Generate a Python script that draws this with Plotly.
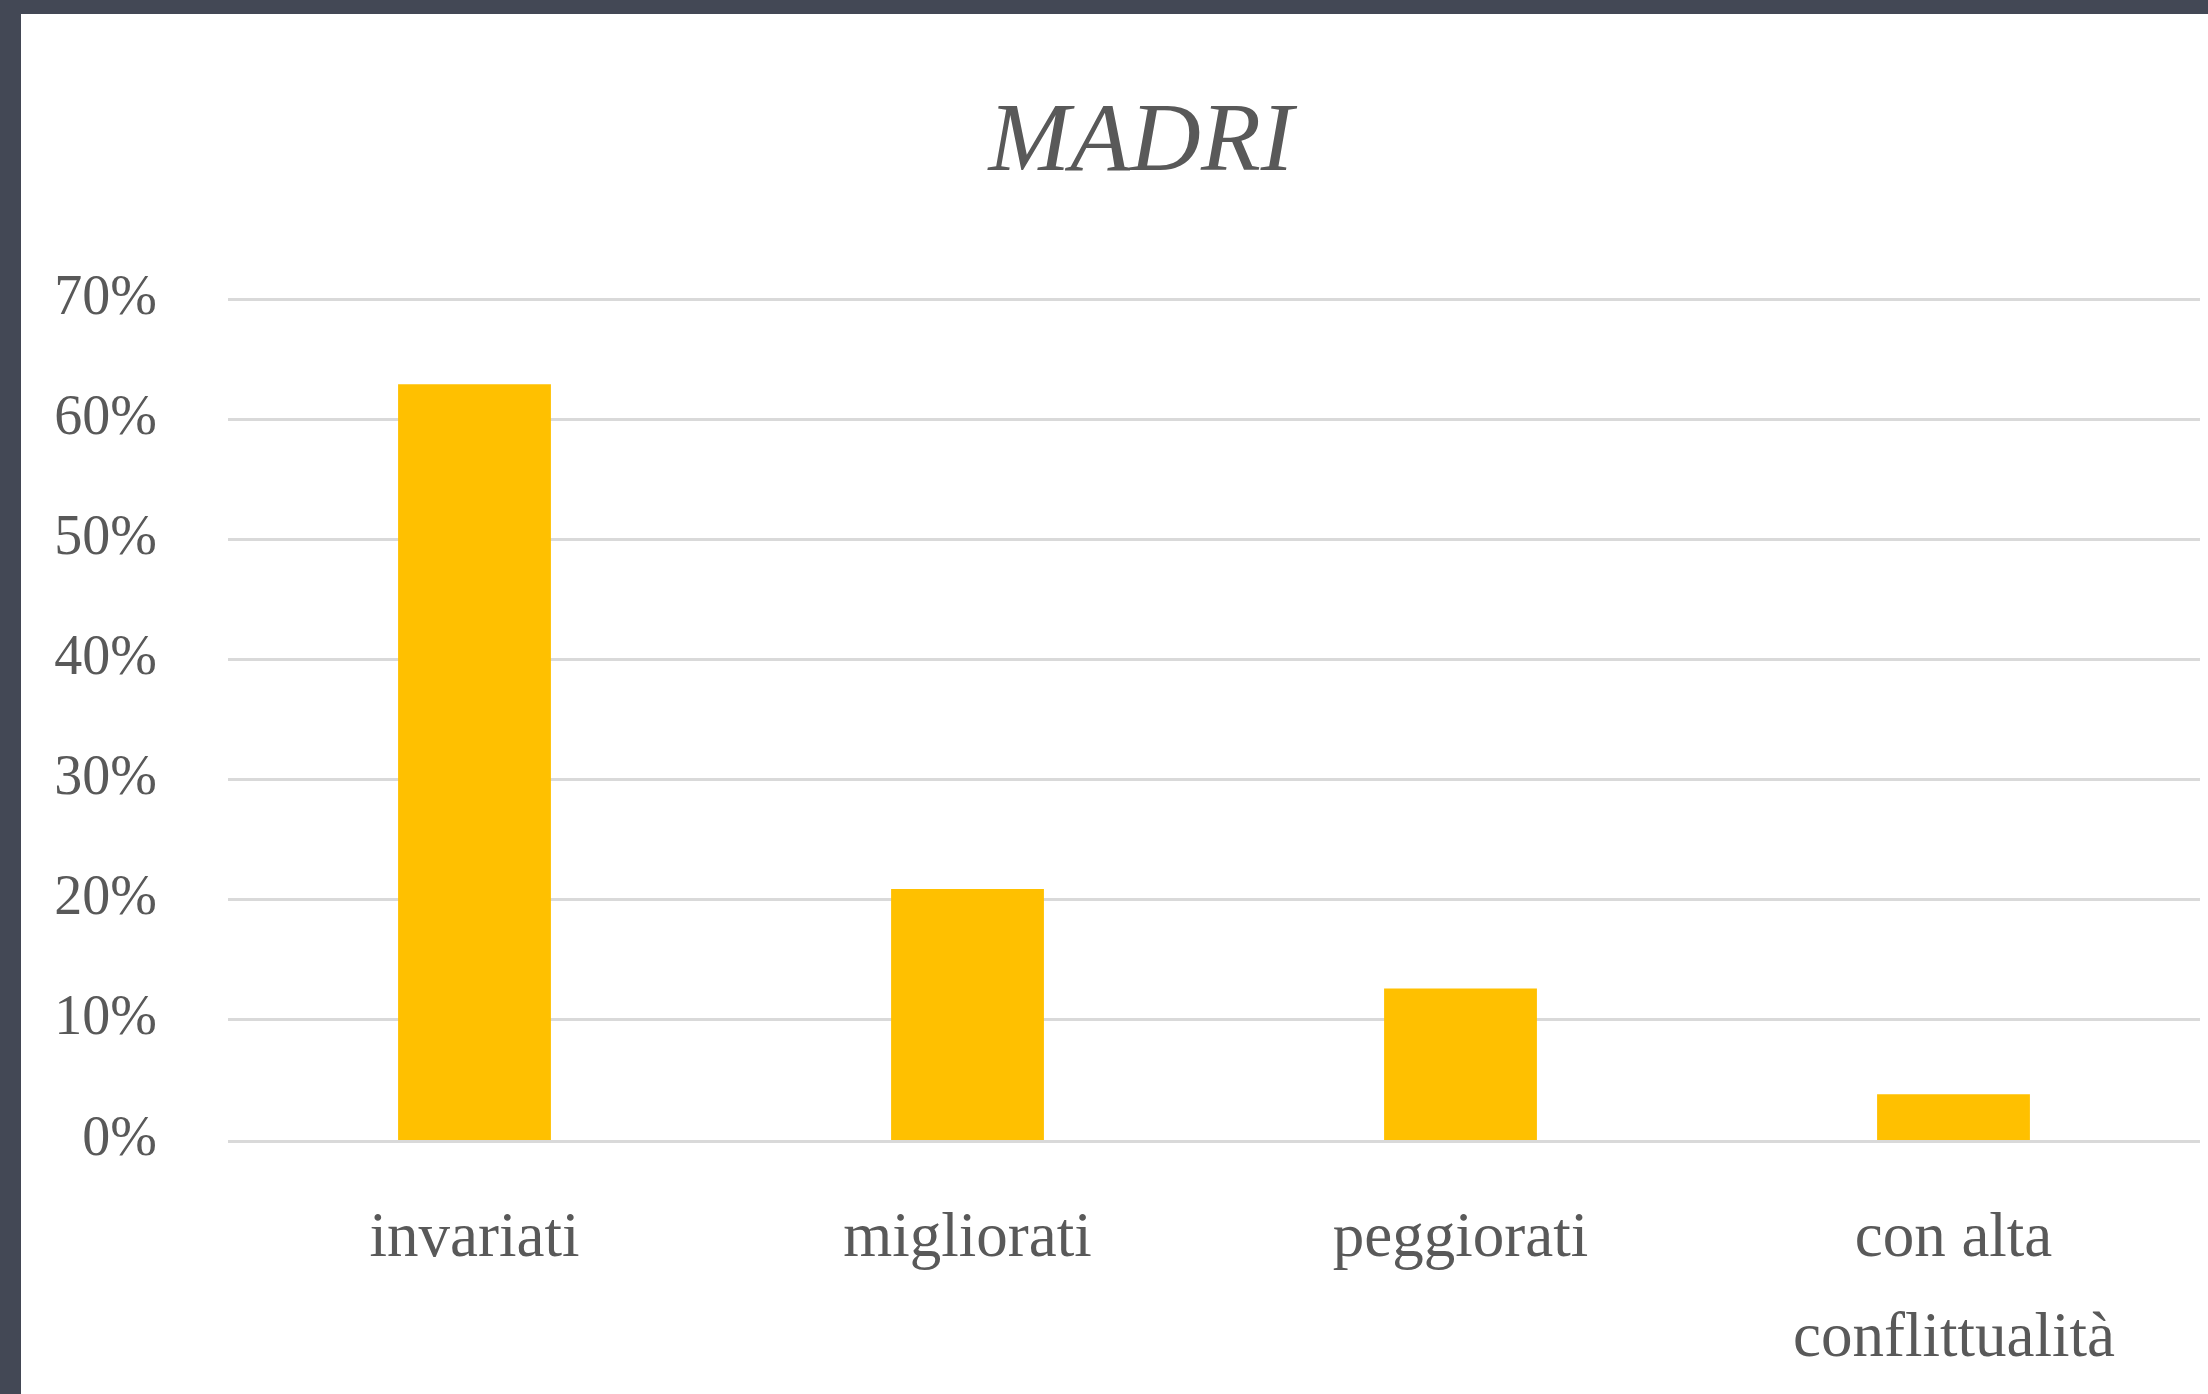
import plotly.graph_objects as go

categories = ["invariati", "migliorati", "peggiorati", "con alta conflittualità"]
tick_labels = ["invariati", "migliorati", "peggiorati", "con alta"]
second_line = {"con alta conflittualità": "conflittualità"}
values = [0.629, 0.209, 0.126, 0.038]
tick_vals = [0, 0.1, 0.2, 0.3, 0.4, 0.5, 0.6, 0.7]
tick_text = ["0%", "10%", "20%", "30%", "40%", "50%", "60%", "70%"]

W, H = 2208, 1394
Y0, Y70 = 1140, 299
YMAX = 0.705
PH = round((Y0 - Y70) * YMAX / 0.7)
ML, MR = 228, 8
MB = H - Y0
MT = H - MB - PH
PW = W - ML - MR

def px_x(p):
    return (p - ML) / PW

def px_y(p):
    return 1 - (p - MT) / PH

FONT = "Liberation Serif"
GRAY = "#595959"

fig = go.Figure(go.Bar(
    x=categories, y=values, marker_color="#FFC000", marker_line_width=0,
    width=0.31,
))

annotations = [
    dict(text=txt, x=cat, xref="x", y=px_y(1335), yref="paper",
         xanchor="center", yanchor="middle", showarrow=False,
         font=dict(family=FONT, size=63, color=GRAY))
    for cat, txt in second_line.items()
]

fig.update_layout(
    width=W, height=H,
    margin=dict(l=ML, r=MR, t=MT, b=MB),
    paper_bgcolor="#434855",
    plot_bgcolor="white",
    showlegend=False,
    title=dict(text="<i>MADRI</i>", x=1141 / W, xanchor="center",
               y=1 - 136 / H, yanchor="middle",
               font=dict(family=FONT, size=98, color=GRAY)),
    shapes=[dict(type="rect", xref="paper", yref="paper", layer="below",
                 x0=px_x(21), x1=px_x(W + 5), y0=px_y(H + 5), y1=px_y(14),
                 fillcolor="white", line_width=0)],
    annotations=annotations,
    xaxis=dict(showgrid=False, showline=True, linecolor="#d9d9d9", linewidth=3,
               ticks="", ticklabelstandoff=37,
               tickvals=categories, ticktext=tick_labels,
               tickfont=dict(family=FONT, size=63, color=GRAY)),
    yaxis=dict(range=[0, YMAX], tickvals=tick_vals, ticktext=tick_text,
               showgrid=True, gridcolor="#d9d9d9", gridwidth=3,
               zeroline=False, showline=False, ticks="",
               ticklabelstandoff=70, ticklabelshift=-5,
               tickfont=dict(family=FONT, size=56, color=GRAY)),
)

fig.write_html("out.html", config={"displayModeBar": False},
               post_script="document.body.style.margin='0';document.body.style.overflow='hidden';")
